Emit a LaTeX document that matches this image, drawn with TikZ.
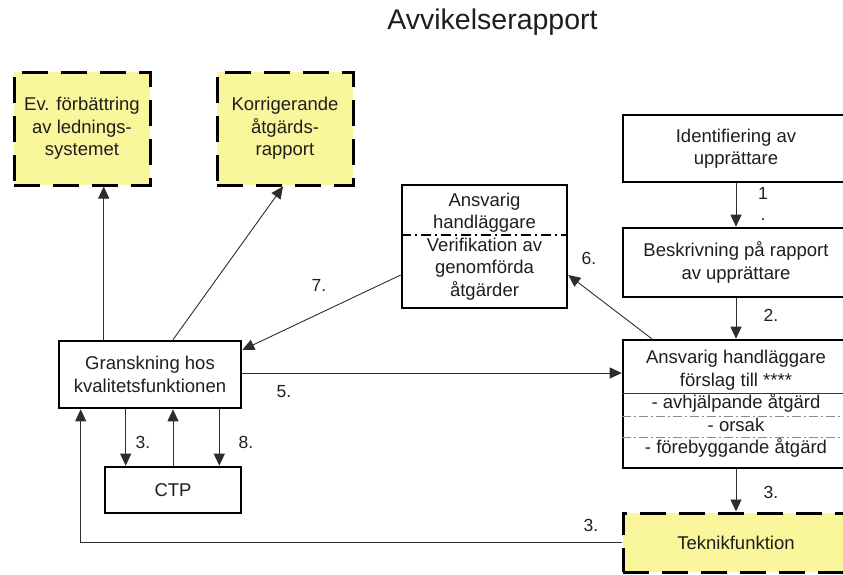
\documentclass[tikz,border=0pt]{standalone}
\usepackage{fontspec}
\setmainfont{Liberation Sans}
\usetikzlibrary{arrows.meta,calc}
\definecolor{boxyellow}{RGB}{250,246,155}
\definecolor{txt}{RGB}{30,30,30}
\definecolor{ln}{RGB}{45,45,45}
\definecolor{divgray}{RGB}{140,140,140}
\begin{document}
\begin{tikzpicture}[x=1pt,y=-1pt,
  font=\fontsize{18.5}{22.5}\selectfont, text=txt,
  solidbox/.style={draw=black, line width=2.6pt, fill=white, inner sep=0pt, align=center},
  dashbox/.style={draw=black, line width=3pt, dash pattern=on 26pt off 13pt, fill=boxyellow, inner sep=0pt, align=center},
  arr/.style={draw=ln, line width=0.9pt, -{Triangle[length=12pt,width=11pt]}},
  lbl/.style={inner sep=0pt, font=\fontsize{17.5}{20}\selectfont}]
\useasboundingbox (0,0) rectangle (843,574);
\clip (0,0) rectangle (843,574);

% title
\node[anchor=base, inner sep=0pt, font=\fontsize{28.5}{30}\selectfont] (title) at (492.5,29) {Avvikelserapport};

% boxes
\node[dashbox, minimum width=136pt, minimum height=113pt] (ev) at (82,128.5) {Ev. förbättring\\av lednings-\\systemet};
\node[dashbox, minimum width=136pt, minimum height=113pt] (kor) at (285,128.5) {Korrigerande\\åtgärds-\\rapport};
\node[solidbox, minimum width=226pt, minimum height=67pt] (ident) at (736,148.5) {Identifiering av\\upprättare};
\node[solidbox, minimum width=226pt, minimum height=69pt] (besk) at (736,262.5) {Beskrivning på rapport\\av upprättare};
\node[solidbox, minimum width=226pt, minimum height=128pt] (ans) at (736,404) {Ansvarig handläggare\\förslag till ****\\- avhjälpande åtgärd\\- orsak\\- förebyggande åtgärd};
\node[dashbox, minimum width=226pt, minimum height=59pt] (tek) at (736,542.5) {Teknikfunktion};
\node[solidbox, minimum width=165pt, minimum height=123pt] (verif) at (484.5,246.5) {Ansvarig\\handläggare\\Verifikation av\\genomförda\\åtgärder};
\node[solidbox, minimum width=182pt, minimum height=67pt] (gran) at (150,374.5) {Granskning hos\\kvalitetsfunktionen};
\node[solidbox, minimum width=136pt, minimum height=46pt] (ctp) at (173,490) {CTP};

% dividers
\draw[line width=2.4pt, dash pattern=on 10pt off 4pt on 2pt off 4pt] (verif.west |- 0,235) -- (verif.east |- 0,235);
\draw[line width=1pt, black!80] (ans.west |- 0,393) -- (ans.east |- 0,393);
\draw[line width=1pt, divgray, dash pattern=on 9pt off 3pt on 2pt off 3pt] (ans.west |- 0,416) -- (ans.east |- 0,416);
\draw[line width=1pt, divgray, dash pattern=on 9pt off 3pt on 2pt off 3pt] (ans.west |- 0,437) -- (ans.east |- 0,437);

% connectors
\draw[arr] (ident.south) -- (besk.north);
\draw[arr] (besk.south) -- (ans.north);
\draw[arr] (ans.south) -- (tek.north);
\coordinate (g0) at ($(gran.south west)+(23,0)$);
\draw[arr] (tek.west) -| (g0);
\draw[arr] ($(gran.east)+(0,-1.5)$) -- ($(gran.east -| ans.west)+(0,-1.5)$);
\draw[arr] ($(verif.west)+(0,28.5)$) -- ($(gran.east)+(0,-24.5)$);
\draw[arr] ($(ans.north west)+(30,0)$) -- ($(verif.east)+(0,28.5)$);
\coordinate (g1) at ($(gran.north west)+(46,0)$);
\draw[arr] (g1) -- (g1 |- ev.south);
\coordinate (g2) at ($(gran.north)+(23,0)$);
\draw[arr] (g2) -- ($(kor.south)+(-2,0)$);
\coordinate (c1) at ($(ctp.north west)+(22,0)$);
\draw[arr] (c1 |- gran.south) -- (c1);
\draw[arr] (ctp.north) -- (ctp.north |- gran.south);
\coordinate (c3) at ($(ctp.north east)+(-23,0)$);
\draw[arr] (c3 |- gran.south) -- (c3);

% labels
\node[lbl] (l1) at (763,193) {1};
\node[lbl] (l1dot) at (763,220) {.};
\node[lbl] (l2) at (771,315) {2.};
\node[lbl] (l3a) at (771,492) {3.};
\node[lbl] (l3b) at (591,525) {3.};
\node[lbl] (l5) at (284,392) {5.};
\node[lbl] (l6) at (589,258) {6.};
\node[lbl] (l7) at (319,285) {7.};
\node[lbl] (l3c) at (143,442) {3.};
\node[lbl] (l8) at (246,442) {8.};
\end{tikzpicture}
\end{document}
